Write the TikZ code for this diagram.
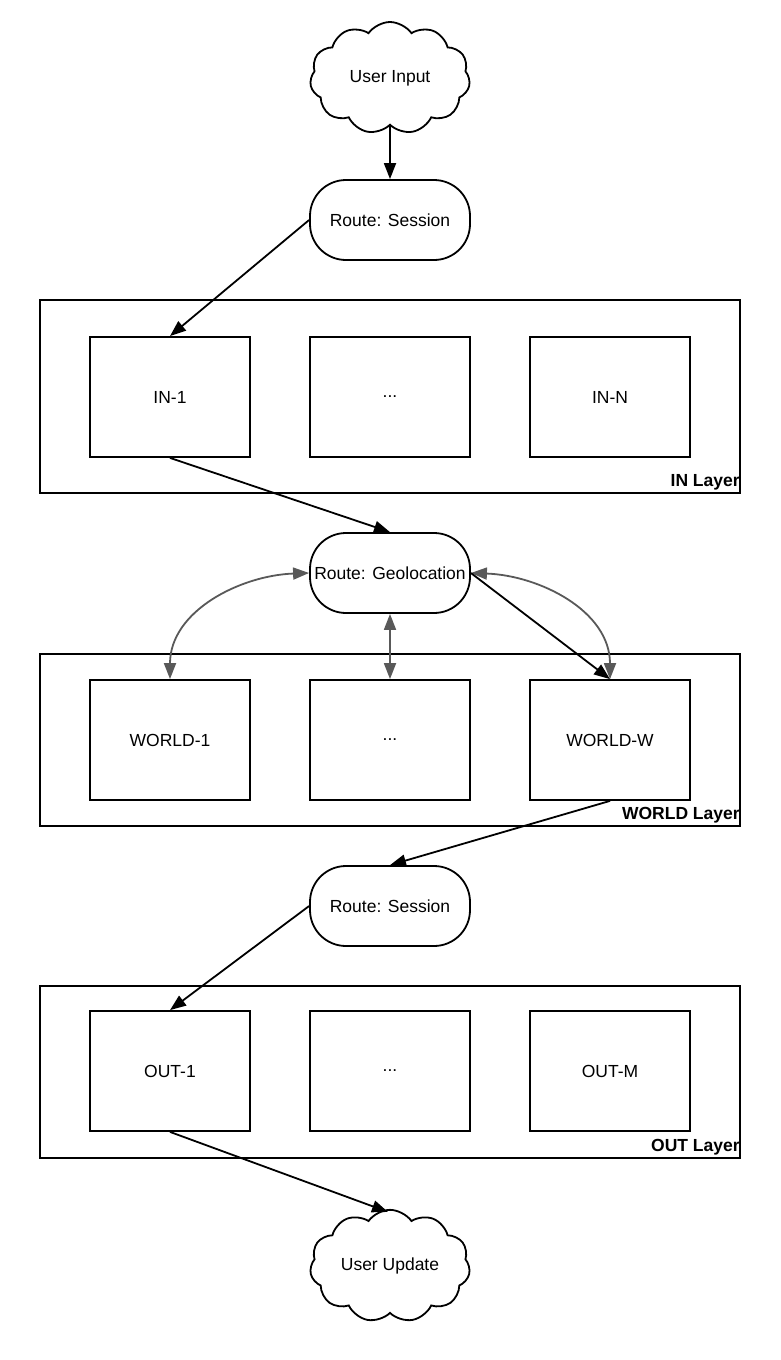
\documentclass[tikz,border=0pt]{standalone}
\usepackage{fontspec}
\setmainfont{Liberation Sans}
\usepackage{tikz}
\usetikzlibrary{arrows.meta,shapes.symbols,shapes.misc,calc,positioning}

\begin{document}
\begin{tikzpicture}[x=1pt,y=1pt,-,
    font=\fontsize{17.5}{20}\selectfont,
    cloudnode/.style={cloud,draw,line width=1.8pt,cloud puffs=11,cloud puff arc=110,
                      aspect=1.45,minimum width=160pt,minimum height=112pt,inner sep=0pt},
    route node/.style={draw,line width=1.8pt,rounded corners=36pt,
                       minimum width=160pt,minimum height=80pt,inner sep=0pt},
    main node/.style={draw,line width=1.8pt,minimum width=160pt,minimum height=120pt,inner sep=0pt},
    layer node/.style={draw,line width=1.8pt,minimum width=700pt,inner sep=0pt},
    layer label/.style={font=\fontsize{17.5}{20}\selectfont\bfseries,anchor=south east,inner sep=0pt},
    flow/.style={-{Triangle[length=16pt,width=12pt]},line width=1.8pt},
    geo link/.style={{Triangle[length=16pt,width=12pt]}-{Triangle[length=16pt,width=12pt]},
                     line width=1.8pt,color=black!65}]

  \useasboundingbox (0,0) rectangle (780,-1360);

  % input side
  \node[cloudnode] (ui) at (390,-78) {User Input};
  \node[route node] (rs1) at (390,-220) {Route: Session};

  % IN layer
  \node[layer node,minimum height=193pt] (inlay) at (390,-396.5) {};
  \node[main node] (in1) at (170,-397) {IN-1};
  \node[main node] (in2) at (390,-397) {...};
  \node[main node] (inn) at (610,-397) {IN-N};
  \node[layer label] at ($(inlay.south east)+(-1,4)$) {IN Layer};

  \node[route node] (geo) at (390,-573) {Route: Geolocation};

  % WORLD layer
  \node[layer node,minimum height=172pt] (wlay) at (390,-740) {};
  \node[main node] (w1) at (170,-740) {WORLD-1};
  \node[main node] (w2) at (390,-740) {...};
  \node[main node] (ww) at (610,-740) {WORLD-W};
  \node[layer label] at ($(wlay.south east)+(-1,4)$) {WORLD Layer};

  \node[route node] (rs2) at (390,-906) {Route: Session};

  % OUT layer
  \node[layer node,minimum height=172pt] (olay) at (390,-1072) {};
  \node[main node] (o1) at (170,-1071) {OUT-1};
  \node[main node] (o2) at (390,-1071) {...};
  \node[main node] (om) at (610,-1071) {OUT-M};
  \node[layer label] at ($(olay.south east)+(-1,4)$) {OUT Layer};

  \node[cloudnode] (uu) at (390,-1266) {User Update};

  \path[geo link]
    (geo.west) edge[out=182,in=90] (w1.north)
    (geo.south) edge (w2.north)
    (geo.east) edge[out=-2,in=90] (ww.north);

  \path[flow]
    (ui) edge (rs1)
    (rs1.west) edge (in1.north)
    (in1.south) edge (geo.north)
    (geo.east) edge (ww.north)
    (ww.south) edge (rs2.north)
    (rs2.west) edge (o1.north)
    (o1.south) edge ($(uu.north)+(-2,-3)$);

\end{tikzpicture}
\end{document}
